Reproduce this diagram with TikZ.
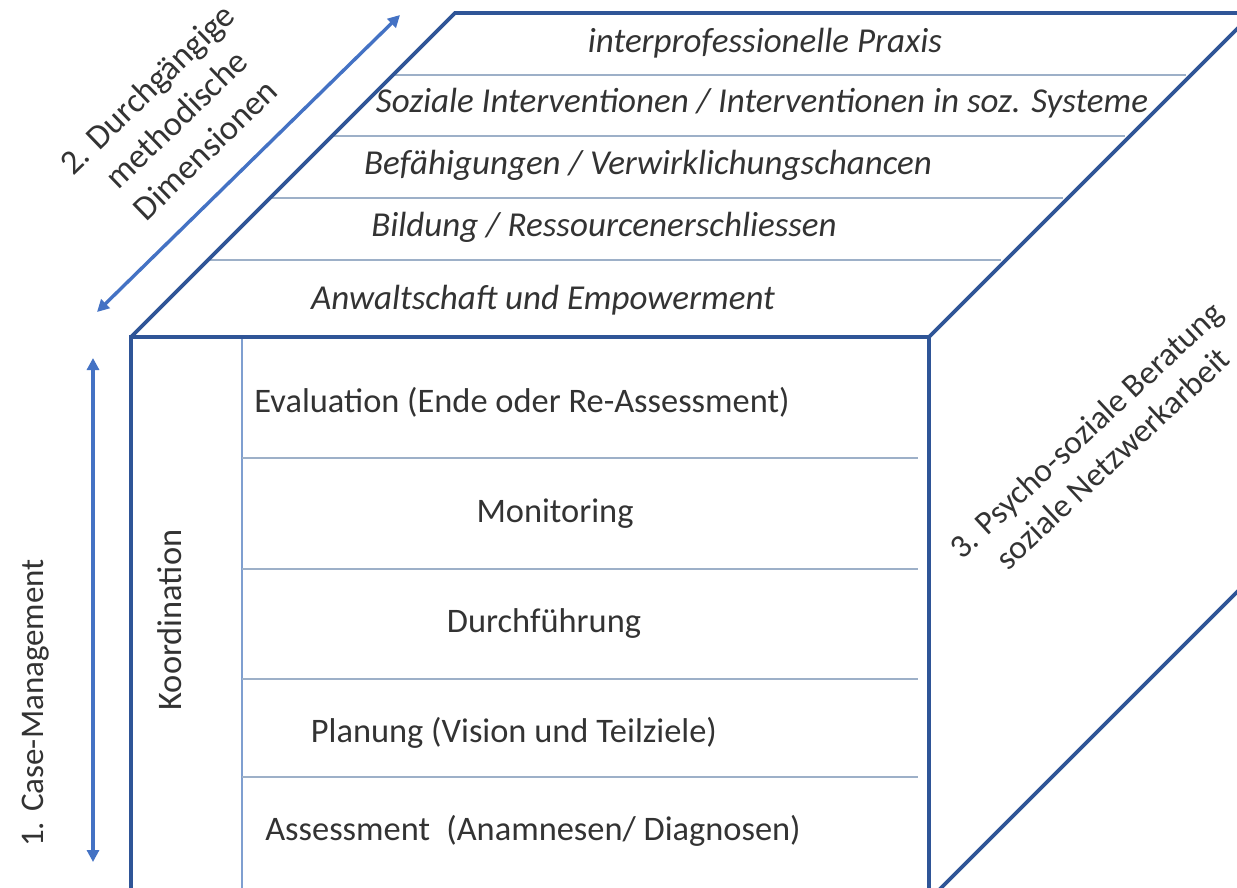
\documentclass[tikz,border=0pt]{standalone}
\usepackage{fontspec}
\setmainfont{Carlito}
\usetikzlibrary{arrows.meta}
\definecolor{edge}{HTML}{2F5597}
\definecolor{thin}{HTML}{9DB0C8}
\definecolor{inner}{HTML}{7F9FD0}
\definecolor{arr}{HTML}{4472C4}
\definecolor{txt}{HTML}{333333}
\tikzset{
  outline/.style={draw=edge,line width=3.8pt,line join=miter},
  sep/.style={draw=thin,line width=1.6pt},
  innerline/.style={draw=inner,line width=1.6pt},
  dimarrow/.style={draw=arr,line width=3.4pt,{Triangle[length=12pt,width=12pt]}-{Triangle[length=12pt,width=12pt]}},
  toptext/.style={font=\fontsize{35}{40}\selectfont\itshape,text=txt,inner sep=0pt},
  fronttext/.style={font=\fontsize{34.4}{40}\selectfont,text=txt,inner sep=0pt},
  sidetext/.style={font=\fontsize{34.5}{42}\selectfont,text=txt,inner sep=0pt,align=center}
}
\begin{document}
\begin{tikzpicture}[x=1pt,y=-1pt]
\useasboundingbox (0,0) rectangle (1237,887);
\clip (0,0) rectangle (1237,887);
\fill[white] (0,0) rectangle (1237,887);
% corners
\coordinate (FTL) at (131,337);
\coordinate (FTR) at (929,337);
\coordinate (FBL) at (131,900);
\coordinate (FBR) at (929,900);
\coordinate (BTL) at (455,13);
\coordinate (BTR) at (1253,13);
\coordinate (BBR) at (1253,576);
% top face separators
\foreach \yy in {75,136,198,260}{
  \draw[sep] ({131+337-\yy},\yy) -- ({929+337-\yy-5},\yy);
}
% front face separators
\draw[innerline] (242,337) -- (242,900);
\foreach \yy in {458,569,679,777}{
  \draw[sep] (242,\yy) -- (918,\yy);
}
% cube outline
\draw[outline] (FBL) -- (FTL) -- (FTR) -- (FBR);
\draw[outline] (FTL) -- (BTL) -- (BTR);
\draw[outline] (FTR) -- (BTR);
\draw[outline] (FBR) -- (BBR);
% top texts
\node[toptext] (t1) at (765,43) {interprofessionelle Praxis};
\node[toptext] (t2) at (762,103) {Soziale Interventionen / Interventionen in soz. Systeme};
\node[toptext] (t3) at (648,165) {Befähigungen / Verwirklichungschancen};
\node[toptext] (t4) at (604,227) {Bildung / Ressourcenerschliessen};
\node[toptext] (t5) at (543,300) {Anwaltschaft und Empowerment};
% front texts
\node[fronttext] (f1) at (522,402) {Evaluation (Ende oder Re-Assessment)};
\node[fronttext] (f2) at (555,514) {Monitoring};
\node[fronttext] (f3) at (544,624) {Durchführung};
\node[fronttext] (f4) at (514,733) {Planung (Vision und Teilziele)};
\node[fronttext] (f5) at (533,831) {Assessment\hspace{0.25em} (Anamnesen/ Diagnosen)};
\node[fronttext,rotate=90] (koord) at (170,620) {Koordination};
% dimension arrows and labels
\coordinate (a1s) at (93,358);
\coordinate (a1e) at (93,862);
\draw[dimarrow] (a1s) -- (a1e);
\node[sidetext,rotate=90,font=\fontsize{33}{40}\selectfont] (d1) at (36,703) {1. Case-Management};
\coordinate (a2s) at (97,312);
\coordinate (a2e) at (400,15);
\draw[dimarrow] (a2s) -- (a2e);
\node[sidetext,rotate=44] (d2) at (176,119) {2. Durchgängige\\methodische\\Dimensionen};
\node[sidetext,rotate=43,font=\fontsize{33.2}{39}\selectfont] (d3) at (1099,444) {3. Psycho-soziale Beratung\\soziale Netzwerkarbeit};
\end{tikzpicture}
\end{document}
